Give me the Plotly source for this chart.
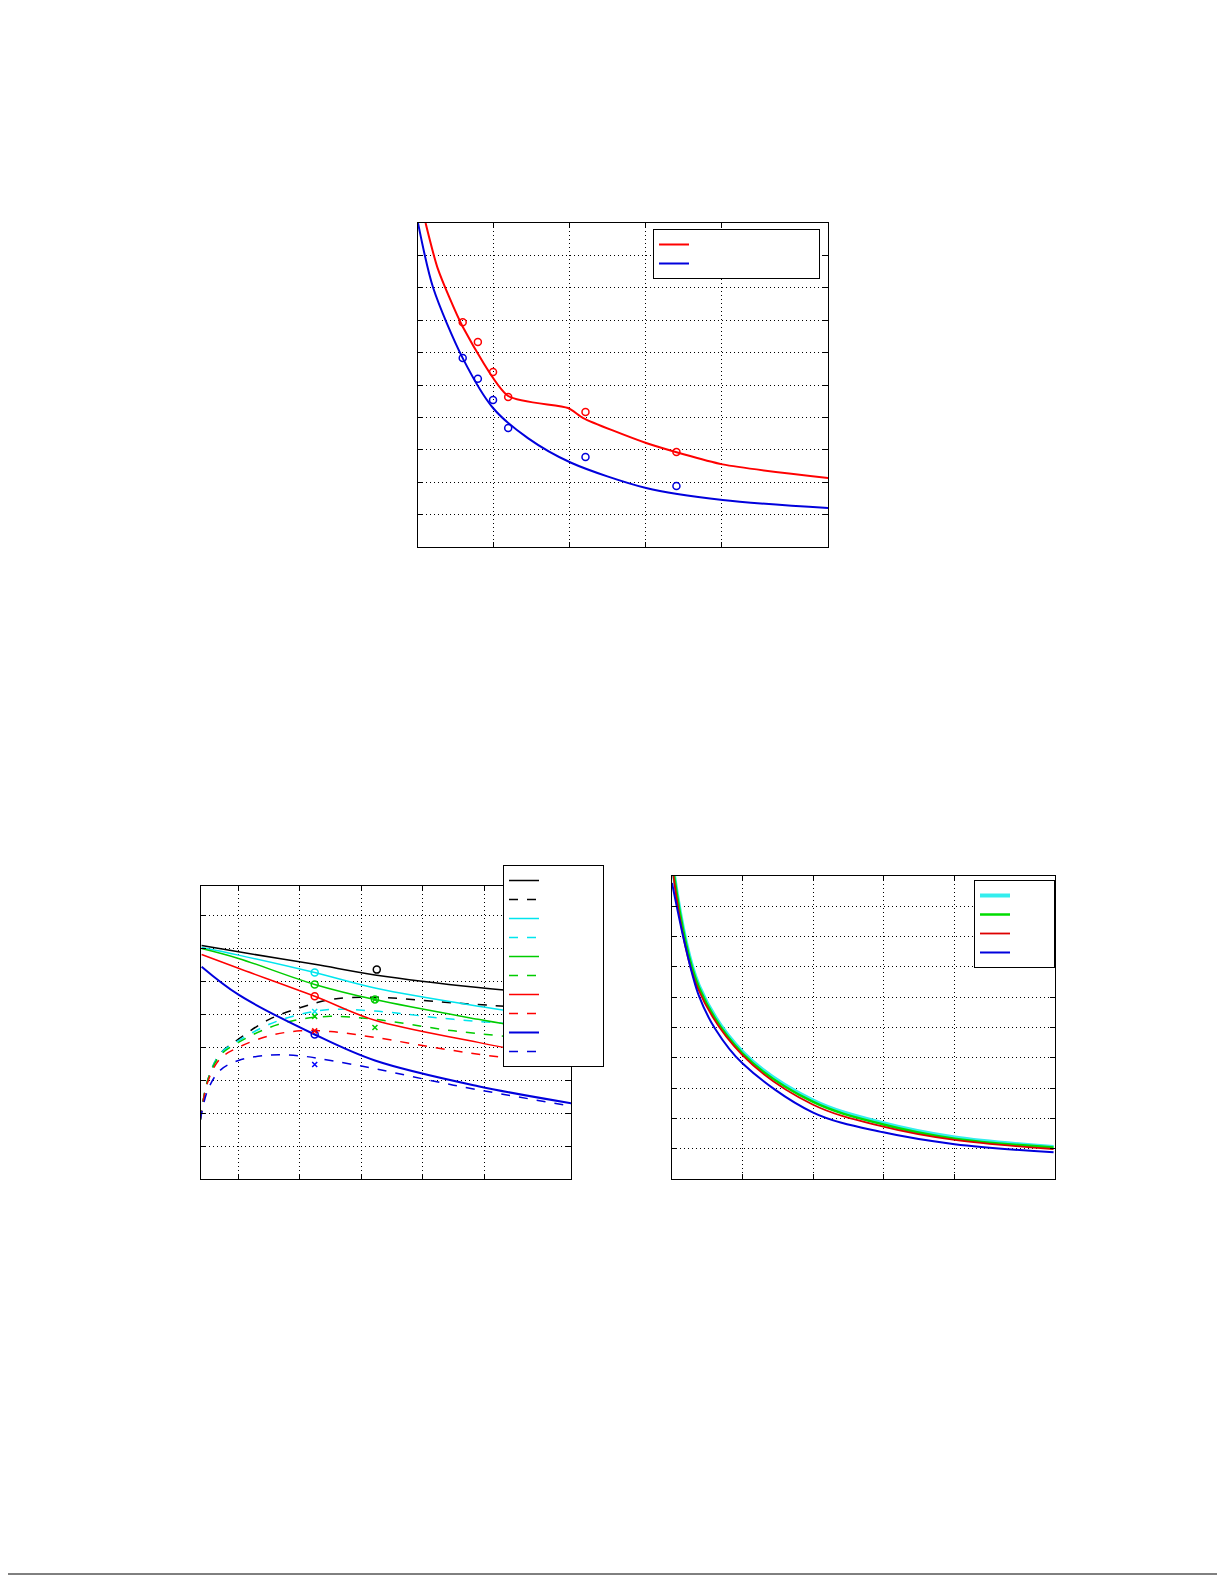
import plotly.graph_objects as go

# ---- Top chart data ----
top_red_x = [0.1, 0.26, 0.59, 1.19, 1.98, 2.18, 3.01, 4.02, 5.42]
top_red_y = [10.0, 8.6, 6.8, 4.66, 4.29, 3.98, 3.21, 2.55, 2.13]
top_blue_x = [0.0, 0.2, 0.59, 0.99, 1.45, 2.02, 3.01, 4.02, 5.42]
top_blue_y = [10.0, 8.0, 5.83, 4.29, 3.36, 2.6, 1.82, 1.45, 1.2]
top_red_pts_x = [0.59, 0.79, 0.99, 1.19, 2.21, 3.41]
top_red_pts_y = [6.94, 6.33, 5.40, 4.63, 4.17, 2.93]
top_blue_pts_x = [0.59, 0.79, 0.99, 1.19, 2.21, 3.41]
top_blue_pts_y = [5.83, 5.19, 4.54, 3.67, 2.78, 1.88]

# ---- Bottom-left data ----
bl_x = [-0.6, 0.0, 1.24, 2.22, 3.9, 5.42]
bl_solid = {
    "black": [7.09, 6.9, 6.52, 6.2, 5.82, 5.58],
    "cyan": [7.03, 6.8, 6.27, 5.8, 5.25, 4.85],
    "green": [7.0, 6.7, 5.91, 5.45, 4.85, 4.36],
    "red": [6.82, 6.4, 5.55, 4.82, 4.15, 3.6],
    "blue": [6.45, 5.6, 4.39, 3.6, 2.82, 2.3],
}
bl_dash_x = [-0.62, -0.5, -0.3, 0.0, 0.5, 1.0, 1.5, 2.22, 3.5, 5.42]
bl_dash = {
    "black": [1.8, 3.0, 3.8, 4.25, 4.85, 5.2, 5.45, 5.52, 5.35, 5.12],
    "cyan": [1.8, 3.0, 3.8, 4.2, 4.7, 5.0, 5.15, 5.1, 4.85, 4.58],
    "green": [1.8, 3.0, 3.75, 4.15, 4.6, 4.85, 4.94, 4.85, 4.5, 4.15],
    "red": [1.8, 2.95, 3.65, 4.0, 4.35, 4.5, 4.48, 4.3, 3.9, 3.42],
    "blue": [1.8, 2.7, 3.3, 3.6, 3.76, 3.74, 3.6, 3.35, 2.85, 2.21],
}
bl_circ_x = [2.25, 1.24, 1.24, 2.22, 1.24, 1.24]
bl_circ_y = [6.36, 6.27, 5.91, 5.45, 5.55, 4.39]
bl_circ_c = ["black", "cyan", "green", "green", "red", "blue"]
bl_star_x = [1.24, 1.24, 2.22, 1.24, 1.24, 2.22]
bl_star_y = [5.09, 4.94, 4.6, 4.5, 3.48, 5.45]
bl_star_c = ["#00e5ee", "#00cc00", "#00cc00", "red", "blue", "#00cc00"]

# ---- Bottom-right data ----
br_x_cyan = [0.03, 0.38, 1.0, 1.99, 2.99, 4.0, 5.4]
br_cyan = [10.0, 6.38, 4.19, 2.6, 1.84, 1.37, 1.06]
br_green = [10.0, 6.33, 4.14, 2.55, 1.8, 1.33, 1.04]
br_x_red = [0.02, 0.36, 1.0, 1.99, 2.99, 4.0, 5.4]
br_red = [10.0, 6.32, 4.08, 2.46, 1.73, 1.29, 0.99]
br_x_blue = [0.0, 0.2, 0.38, 0.61, 1.0, 1.99, 2.99, 4.0, 5.4]
br_blue = [9.77, 7.58, 6.05, 4.96, 3.81, 2.2, 1.54, 1.15, 0.88]

grid_x_ticks = [1, 2, 3, 4]
grid_x_ticks_bl = [0, 1, 2, 3, 4]

colors = {"black": "black", "cyan": "#00e5ee", "green": "#00cc00", "red": "red", "blue": "#0000dd"}
pad_top = "\u2003" * 15
pad_bl = "\u2003" * 6
pad_br = "\u2003" * 4

fig = go.Figure()
sp = dict(mode="lines")
fig.add_trace(go.Scatter(x=top_red_x, y=top_red_y, line=dict(color="red", width=2, shape="spline", smoothing=0.6), name=pad_top, legend="legend", xaxis="x", yaxis="y", **sp))
fig.add_trace(go.Scatter(x=top_blue_x, y=top_blue_y, line=dict(color="#0000dd", width=2, shape="spline", smoothing=0.8), name=pad_top, legend="legend", xaxis="x", yaxis="y", **sp))
fig.add_trace(go.Scatter(x=top_red_pts_x, y=top_red_pts_y, mode="markers", marker=dict(symbol="circle-open", color="red", size=7, line=dict(width=1.5)), showlegend=False, xaxis="x", yaxis="y"))
fig.add_trace(go.Scatter(x=top_blue_pts_x, y=top_blue_pts_y, mode="markers", marker=dict(symbol="circle-open", color="#0000dd", size=7, line=dict(width=1.5)), showlegend=False, xaxis="x", yaxis="y"))

for k in ["black", "cyan", "green", "red", "blue"]:
    fig.add_trace(go.Scatter(x=bl_x, y=bl_solid[k], line=dict(color=colors[k], width=2 if k == "blue" else 1.5, shape="spline"), name=pad_bl, legend="legend2", xaxis="x2", yaxis="y2", **sp))
    fig.add_trace(go.Scatter(x=bl_dash_x, y=bl_dash[k], line=dict(color=colors[k], width=1.5, dash="dash", shape="spline"), name=pad_bl, legend="legend2", xaxis="x2", yaxis="y2", **sp))
fig.add_trace(go.Scatter(x=bl_circ_x, y=bl_circ_y, mode="markers", marker=dict(symbol="circle-open", color=[colors[c] for c in bl_circ_c], size=7, line=dict(width=1.5)), showlegend=False, xaxis="x2", yaxis="y2"))
fig.add_trace(go.Scatter(x=bl_star_x, y=bl_star_y, mode="markers", marker=dict(symbol="x-thin-open", color=bl_star_c, size=5, line=dict(width=1.5, color=bl_star_c)), showlegend=False, xaxis="x2", yaxis="y2"))

fig.add_trace(go.Scatter(x=br_x_cyan, y=br_cyan, line=dict(color="#33eeee", width=4, shape="spline"), name=pad_br, legend="legend3", xaxis="x3", yaxis="y3", **sp))
fig.add_trace(go.Scatter(x=br_x_cyan, y=br_green, line=dict(color="#00dd00", width=2.5, shape="spline"), name=pad_br, legend="legend3", xaxis="x3", yaxis="y3", **sp))
fig.add_trace(go.Scatter(x=br_x_red, y=br_red, line=dict(color="#dd0000", width=1.8, shape="spline"), name=pad_br, legend="legend3", xaxis="x3", yaxis="y3", **sp))
fig.add_trace(go.Scatter(x=br_x_blue, y=br_blue, line=dict(color="#0000dd", width=2, shape="spline"), name=pad_br, legend="legend3", xaxis="x3", yaxis="y3", **sp))

W, H = 1225, 1585
def dom(a, b):
    return [a / W, b / W]
def ydom(top, bot):
    return [1 - bot / H, 1 - top / H]

ax = dict(showline=True, linecolor="black", linewidth=1, mirror="ticks", ticks="inside", ticklen=5,
          tickcolor="black", showticklabels=False, showgrid=True, gridcolor="black", griddash="1px,3px",
          gridwidth=1, zeroline=False)
fig.update_layout(
    width=W, height=H, margin=dict(l=0, r=0, t=0, b=0),
    plot_bgcolor="white", paper_bgcolor="white", showlegend=True,
    xaxis=dict(ax, domain=dom(410, 820), range=[0, 5.41], tickvals=grid_x_ticks),
    yaxis=dict(ax, domain=ydom(215, 539), range=[0, 10], dtick=1),
    xaxis2=dict(ax, domain=dom(193, 563), range=[-0.61, 5.41], tickvals=grid_x_ticks_bl, anchor="y2"),
    yaxis2=dict(ax, domain=ydom(878, 1171), range=[0, 8.9], dtick=1, anchor="x2"),
    xaxis3=dict(ax, domain=dom(664, 1047), range=[0, 5.42], tickvals=grid_x_ticks, anchor="y3"),
    yaxis3=dict(ax, domain=ydom(868, 1171), range=[0, 10], dtick=1, anchor="x3"),
    legend=dict(x=645 / W, y=1 - 221 / H, xanchor="left", yanchor="top", bgcolor="white",
                bordercolor="black", borderwidth=1, font=dict(size=8), tracegroupgap=0, itemwidth=30),
    legend2=dict(x=495 / W, y=1 - 857 / H, xanchor="left", yanchor="top", bgcolor="white",
                 bordercolor="black", borderwidth=1, font=dict(size=9), tracegroupgap=0, itemwidth=30),
    legend3=dict(x=966 / W, y=1 - 872 / H, xanchor="left", yanchor="top", bgcolor="white",
                 bordercolor="black", borderwidth=1, font=dict(size=8.5), tracegroupgap=0, itemwidth=30),
)
fig.add_shape(type="line", xref="paper", yref="paper", x0=0, x1=1, y0=1 - 1566 / H, y1=1 - 1566 / H,
              line=dict(color="black", width=1))
fig.write_html("out.html")
